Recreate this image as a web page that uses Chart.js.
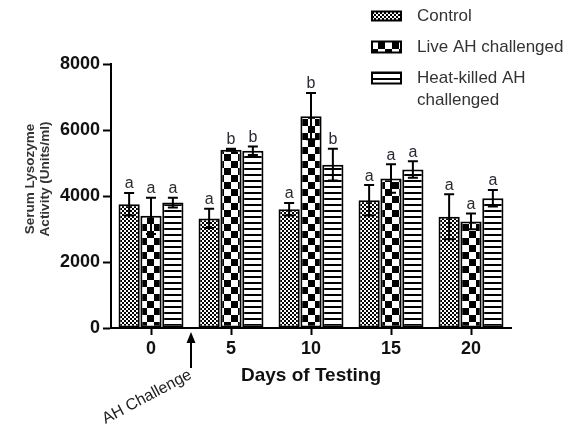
<!DOCTYPE html>
<html>
<head>
<meta charset="utf-8">
<script src="https://cdn.jsdelivr.net/npm/chart.js@4.4.1/dist/chart.umd.min.js"></script>
<style>
  html, body { margin: 0; padding: 0; background: #fff; }
  #wrap { width: 571px; height: 427px; }
</style>
</head>
<body>
<div id="wrap"><canvas id="barChart"></canvas></div>
<script>
const days = ['0', '5', '10', '15', '20'];
const controlVals = [3750, 3320, 3600, 3870, 3370];
const controlErr = [340, 290, 190, 460, 680];
const liveVals = [3400, 5400, 6420, 4530, 3230];
const liveErr = [550, 30, 700, 430, 240];
const heatVals = [3800, 5370, 4950, 4800, 3930];
const heatErr = [150, 130, 480, 250, 250];
const controlLetters = ['a', 'a', 'a', 'a', 'a'];
const liveLetters = ['a', 'b', 'b', 'a', 'a'];
const heatLetters = ['a', 'b', 'b', 'a', 'a'];
const yTicks = [0, 2000, 4000, 6000, 8000];

const FONT = "'Liberation Sans', Arial, sans-serif";

function makePattern(w, h, draw) {
    const c = document.createElement('canvas');
    c.width = w; c.height = h;
    const g = c.getContext('2d');
    g.fillStyle = '#fff';
    g.fillRect(0, 0, w, h);
    g.fillStyle = '#000';
    draw(g);
    return document.createElement('canvas').getContext('2d').createPattern(c, 'repeat');
}

const finePat = makePattern(4, 4, g => { g.fillRect(0, 0, 2, 2); g.fillRect(2, 2, 2, 2); });
const bigPat = makePattern(14, 14, g => { g.fillRect(0, 0, 7, 7); g.fillRect(7, 7, 7, 7); });
const stripePat = makePattern(6, 6, g => { g.fillRect(0, 0, 6, 2); });

const errors = [controlErr, liveErr, heatErr];
const letters = [controlLetters, liveLetters, heatLetters];

// error bars + significance letters, arrow, y title, legend
const extras = {
    id: 'extras',
    afterDatasetsDraw(chart) {
        const ctx = chart.ctx;
        const y = chart.scales.y;
        const x = chart.scales.x;
        ctx.save();
        ctx.strokeStyle = '#000';
        ctx.lineWidth = 2;
        chart.data.datasets.forEach((ds, i) => {
            chart.getDatasetMeta(i).data.forEach((bar, j) => {
                const v = ds.data[j];
                const top = y.getPixelForValue(v + errors[i][j]);
                const bot = y.getPixelForValue(v - errors[i][j]);
                ctx.beginPath();
                ctx.moveTo(bar.x, bot);
                ctx.lineTo(bar.x, top);
                ctx.moveTo(bar.x - 5, top);
                ctx.lineTo(bar.x + 5, top);
                ctx.moveTo(bar.x - 5, bot);
                ctx.lineTo(bar.x + 5, bot);
                ctx.stroke();
                ctx.fillStyle = '#2a2a35';
                ctx.font = '16px ' + FONT;
                ctx.textAlign = 'center';
                ctx.textBaseline = 'bottom';
                ctx.fillText(letters[i][j], bar.x, top - 1);
            });
        });

        // AH challenge arrow between day 0 and day 5
        const ax = x.getPixelForValue(0.5);
        const base = chart.chartArea.bottom;
        ctx.beginPath();
        ctx.moveTo(ax, base + 40);
        ctx.lineTo(ax, base + 12);
        ctx.stroke();
        ctx.fillStyle = '#000';
        ctx.beginPath();
        ctx.moveTo(ax, base + 4);
        ctx.lineTo(ax - 4.5, base + 15);
        ctx.lineTo(ax + 4.5, base + 15);
        ctx.closePath();
        ctx.fill();
        ctx.save();
        ctx.translate(ax - 44, base + 69);
        ctx.rotate(-28 * Math.PI / 180);
        ctx.fillStyle = '#222';
        ctx.font = '16px ' + FONT;
        ctx.textAlign = 'center';
        ctx.textBaseline = 'middle';
        ctx.fillText('AH Challenge', 0, 0);
        ctx.restore();

        // y axis title
        ctx.save();
        ctx.translate(30, 179);
        ctx.rotate(-Math.PI / 2);
        ctx.fillStyle = '#333';
        ctx.font = 'bold 13.5px ' + FONT;
        ctx.textAlign = 'center';
        ctx.textBaseline = 'middle';
        ctx.fillText('Serum Lysozyme', 0, 0);
        ctx.fillText('Activity (Units/ml)', 0, 15);
        ctx.restore();

        // legend
        const items = [
            { fill: finePat, text: ['Control'], y: 16, h: 9 },
            { fill: bigPat, text: ['Live AH challenged'], y: 47, h: 11 },
            { fill: stripePat, text: ['Heat-killed AH', 'challenged'], y: 78, h: 11 }
        ];
        items.forEach(it => {
            ctx.fillStyle = it.fill;
            ctx.fillRect(372, it.y - it.h / 2, 29, it.h);
            ctx.lineWidth = 2;
            ctx.strokeRect(372, it.y - it.h / 2, 29, it.h);
            ctx.fillStyle = '#333';
            ctx.font = '17px ' + FONT;
            ctx.textAlign = 'left';
            ctx.textBaseline = 'middle';
            it.text.forEach((t, k) => ctx.fillText(t, 417, it.y + k * 22));
        });
        ctx.restore();
    }
};

const ctx = document.getElementById('barChart').getContext('2d');
const barChart = new Chart(ctx, {
    type: 'bar',
    data: {
        labels: days,
        datasets: [
            { label: 'Control', data: controlVals, backgroundColor: finePat },
            { label: 'Live AH challenged', data: liveVals, backgroundColor: bigPat },
            { label: 'Heat-killed AH challenged', data: heatVals, backgroundColor: stripePat }
        ]
    },
    options: {
        responsive: true,
        maintainAspectRatio: false,
        animation: false,
        datasets: {
            bar: {
                borderColor: '#000',
                borderWidth: 2,
                borderSkipped: false,
                categoryPercentage: 0.82,
                barPercentage: 0.97
            }
        },
        layout: { padding: { top: 64, right: 60, left: 0, bottom: 0 } },
        scales: {
            x: {
                afterFit: s => { s.height = 99; },
                grid: { drawOnChartArea: false, offset: false, tickLength: 7, tickWidth: 2, tickColor: '#000' },
                border: { color: '#000', width: 2 },
                ticks: { color: '#111', padding: 3, font: { family: FONT, size: 18, weight: 'bold' } },
                title: {
                    display: true,
                    text: 'Days of Testing',
                    color: '#111',
                    padding: { top: 0, bottom: 40 },
                    font: { family: FONT, size: 19, weight: 'bold' }
                }
            },
            y: {
                min: 0,
                max: 8000,
                afterFit: s => { s.width = 111; },
                afterBuildTicks: s => { s.ticks = yTicks.map(v => ({ value: v })); },
                grid: { drawOnChartArea: false, tickLength: 8, tickWidth: 2, tickColor: '#000' },
                border: { color: '#000', width: 2 },
                ticks: {
                    color: '#111',
                    padding: 3,
                    font: { family: FONT, size: 18, weight: 'bold' },
                    callback: v => String(v)
                }
            }
        },
        plugins: {
            legend: { display: false },
            tooltip: { enabled: false }
        }
    },
    plugins: [extras]
});
</script>
</body>
</html>
